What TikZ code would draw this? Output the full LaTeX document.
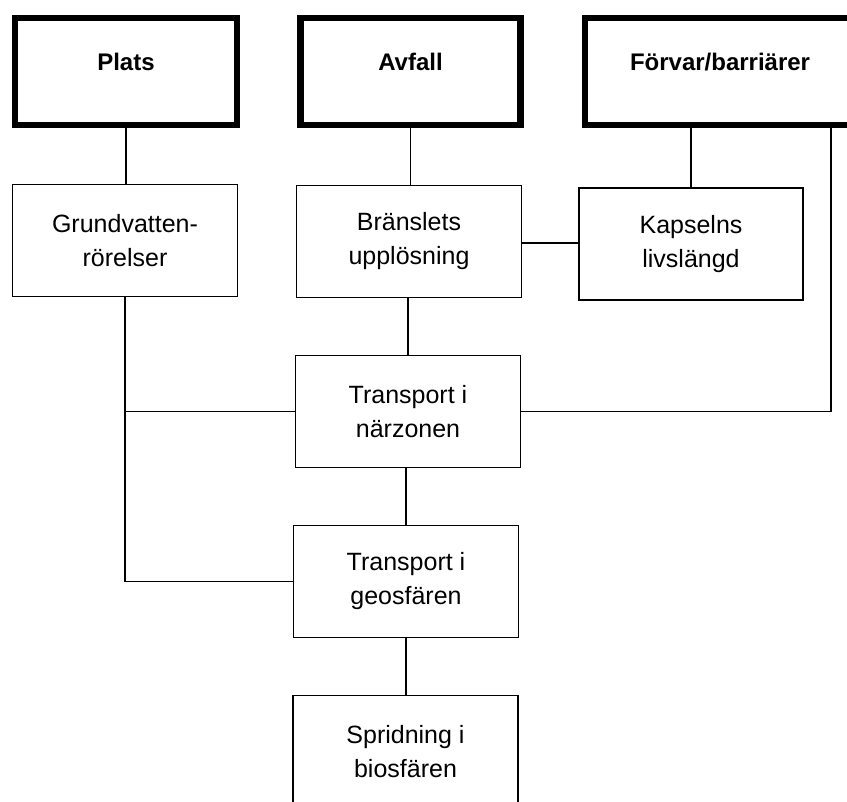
\documentclass[tikz,border=0pt]{standalone}
\usepackage{fontspec}
\setmainfont{Liberation Sans}
\usepackage{tikz}

\begin{document}
\begin{tikzpicture}[x=1pt,y=-1pt,
  main/.style={draw=black,line width=6.5pt,minimum width=220pt,minimum height=107pt,
    font=\fontsize{24}{31}\selectfont\bfseries,text height=17pt,text depth=19pt},
  sub/.style={draw=black,line width=1.6pt,minimum width=225pt,minimum height=112pt,
    align=center,font=\fontsize{25}{34}\selectfont},
  link/.style={draw=black,line width=1.6pt}]
\useasboundingbox (0,0) rectangle (847,802);
\clip (0,0) rectangle (847,802);
\node[main,minimum width=222pt] (plats) at (126,71.5) {Plats};
\node[main] (avfall) at (410.5,71.5) {Avfall};
\node[main,minimum width=330pt,text width=240pt,align=left] (forvar) at (750,71.5) {Förvar/barriärer};
\node[sub] (grund) at (125,240.5) {Grundvatten-\\rörelser};
\node[sub] (bransle) at (409,241.5) {Bränslets\\upplösning};
\node[sub,minimum width=224pt] (kapsel) at (691,244) {Kapselns\\livslängd};
\node[sub] (narzon) at (408,411.5) {Transport i\\närzonen};
\node[sub] (geosf) at (406,581.5) {Transport i\\geosfären};
\node[sub] (biosf) at (405.5,751.5) {Spridning i\\biosfären};
\coordinate (hook) at (831,125);
\draw[link] (plats.south) -- (plats.south |- grund.north);
\draw[link] (avfall.south) -- (avfall.south |- bransle.north);
\draw[link] (bransle.east) ++(0,1.5) -- (kapsel.west |- 0,243);
\draw[link] (kapsel.north |- forvar.south) -- (kapsel.north);
\draw[link] (hook) |- (narzon.east);
\draw[link] (narzon.north |- bransle.south) -- (narzon.north);
\draw[link] (geosf.north |- narzon.south) -- (geosf.north);
\draw[link] (geosf.south) -- (geosf.south |- biosf.north);
\draw[link] (grund.south) |- (geosf.west);
\draw[link] (grund.south |- narzon.west) -- (narzon.west);
\end{tikzpicture}
\end{document}
